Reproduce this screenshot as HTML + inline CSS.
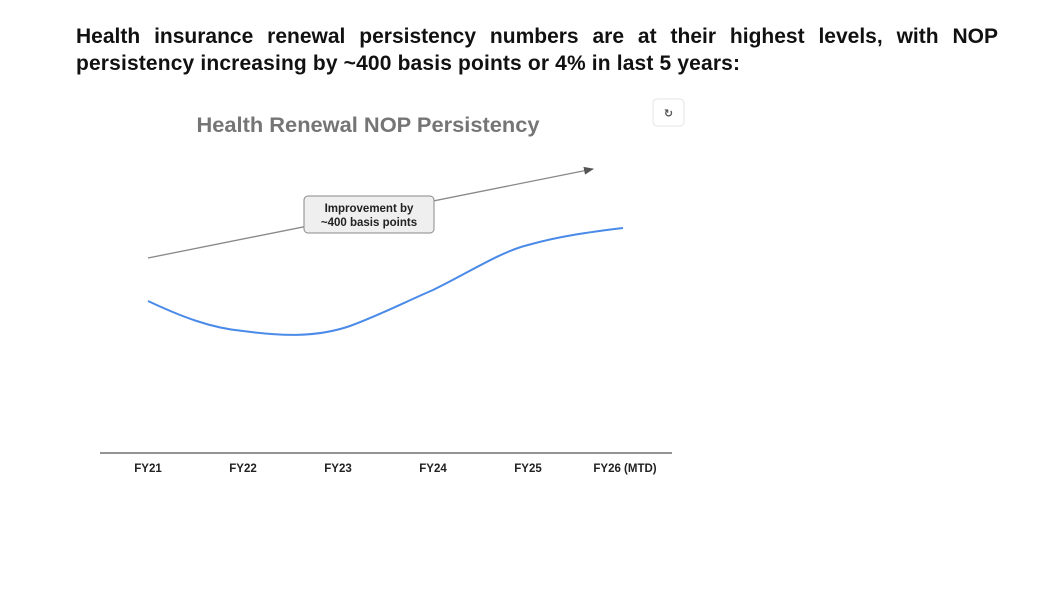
<!DOCTYPE html>
<html><head><meta charset="utf-8"><style>
body{margin:0;background:#fff;width:1050px;height:600px;overflow:hidden;font-family:"Liberation Sans",Arial,sans-serif}
.l{position:absolute;left:76px;width:922px;font-weight:bold;font-size:21px;line-height:26px;color:#111;white-space:nowrap}
.j{text-align:justify;text-align-last:justify}
</style></head><body>
<div class="l j" style="top:24px">Health insurance renewal persistency numbers are at their highest levels, with NOP</div>
<div class="l" style="top:51px;letter-spacing:0.15px">persistency increasing by ~400 basis points or 4% in last 5 years:</div>
<svg width="1050" height="600" style="position:absolute;left:0;top:0" xmlns="http://www.w3.org/2000/svg">
<defs><marker id="a" markerWidth="10" markerHeight="8" refX="9" refY="4" orient="auto" markerUnits="userSpaceOnUse"><path d="M0,0 L10,4 L0,8z" fill="#555"/></marker></defs>
<text x="368" y="132" text-anchor="middle" font-family="Liberation Sans,Arial,sans-serif" font-weight="bold" font-size="21.5" fill="#757575" textLength="343" lengthAdjust="spacingAndGlyphs">Health Renewal NOP Persistency</text>
<rect x="653" y="99" width="31" height="27" rx="4" fill="#fff" stroke="#e4e4e4"/>
<text x="668.5" y="117" text-anchor="middle" font-size="11" font-weight="bold" fill="#555" font-family="DejaVu Sans,sans-serif">↻</text>
<line x1="148" y1="258" x2="593" y2="169" stroke="#888" stroke-width="1.3" marker-end="url(#a)"/>
<rect x="304" y="196" width="130" height="37" rx="4" fill="#efefef" stroke="#888"/>
<text x="369" y="212" text-anchor="middle" font-size="11.5" font-weight="bold" fill="#222">Improvement by</text>
<text x="369" y="226" text-anchor="middle" font-size="11.5" font-weight="bold" fill="#222">~400 basis points</text>
<path d="M148,301 C180,316 210,328 243,331 C280,336 315,338 350,326 C380,315 405,302 433,290 C470,272 500,252 528,245 C560,236 590,232 623,228" fill="none" stroke="#4a8ae8" stroke-width="2"/>
<line x1="100" y1="453" x2="672" y2="453" stroke="#555" stroke-width="1.2"/>
<g font-size="11.5" font-weight="bold" fill="#222" text-anchor="middle">
<text x="148" y="472">FY21</text><text x="243" y="472">FY22</text><text x="338" y="472">FY23</text><text x="433" y="472">FY24</text><text x="528" y="472">FY25</text><text x="625" y="472">FY26 (MTD)</text>
</g>
</svg>
</body></html>
